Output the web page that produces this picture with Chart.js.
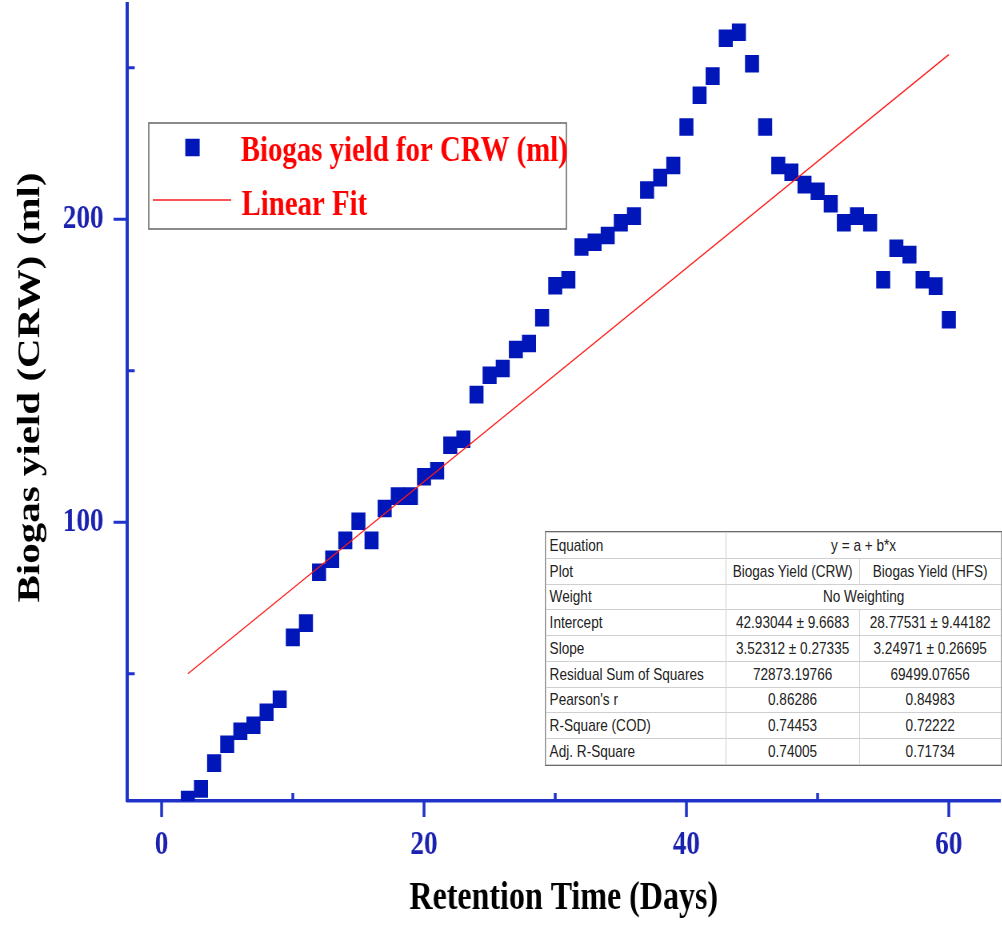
<!DOCTYPE html>
<html><head><meta charset="utf-8">
<script src="https://cdn.jsdelivr.net/npm/chart.js@4/dist/chart.umd.min.js"></script>
<style>
html,body{margin:0;padding:0;background:#fff;overflow:hidden;width:1002px;height:926px}
#wrap{position:absolute;left:0;top:0;width:1252px;height:926px;transform:scaleX(0.8);transform-origin:0 0}
#c{position:absolute;left:0;top:0}
#stats{position:absolute;left:682px;top:532px;width:569px;border-collapse:collapse;font-family:"Liberation Sans",Arial,sans-serif;font-size:17px;color:#222;table-layout:fixed;background:#fff;outline:1.5px solid #6a6a6a}
#stats tr{height:25.78px}
#stats td{border:1px solid #cfcfcf;padding:0 4px;white-space:nowrap;text-align:center;line-height:1;overflow:hidden}
#stats td.l{text-align:left}
</style></head>
<body>
<div id="wrap"><canvas id="c" width="1252" height="926"></canvas>
<table id="stats"><colgroup><col style="width:225px"><col style="width:166.5px"><col style="width:177.5px"></colgroup><tbody id="sb"></tbody></table></div>
<script>
// ---- data ----
const days = [2,3,4,5,6,7,8,9,10,11,12,13,14,15,16,17,18,19,20,21,22,23,24,25,26,27,28,29,30,31,32,33,34,35,36,37,38,39,40,41,42,43,44,45,46,47,48,49,50,51,52,53,54,55,56,57,58,59,60];
const yieldCRW = [8.5,12,20.5,26.7,31,33,37.3,41.6,62,66.7,83.5,87.8,94,100.3,94,104.5,108.6,108.6,115,117,125.4,127.4,142.1,148.5,150.7,157,159,167.5,178,180,190.8,192.4,194.6,198.8,201,209.6,213.7,217.7,230.4,240.9,247.2,259.7,261.7,251.3,230.4,217.7,215.5,211.4,209.2,205.1,198.8,201,198.8,180,190.4,188.3,180,177.9,166.8];
const fitX = [2, 60];
const fitY = [50.0, 254.3];
const xTicks = [0, 20, 40, 60];
const xMinor = [10, 30, 50];
const yTicks = [100, 200];
const yMinor = [50, 150, 250];
const seriesLabels = ['Biogas yield for CRW (ml)', 'Linear Fit'];
const xTitle = 'Retention Time (Days)';
const yTitle = 'Biogas yield (CRW) (ml)';
const statRows = [
  ['Equation', 'y = a + b*x'],
  ['Plot', 'Biogas Yield (CRW)', 'Biogas Yield (HFS)'],
  ['Weight', 'No Weighting'],
  ['Intercept', '42.93044 ± 9.6683', '28.77531 ± 9.44182'],
  ['Slope', '3.52312 ± 0.27335', '3.24971 ± 0.26695'],
  ['Residual Sum of Squares', '72873.19766', '69499.07656'],
  ["Pearson's r", '0.86286', '0.84983'],
  ['R-Square (COD)', '0.74453', '0.72222'],
  ['Adj. R-Square', '0.74005', '0.71734']
];

// ---- table ----
const sb = document.getElementById('sb');
statRows.forEach(r => {
  const tr = document.createElement('tr');
  r.forEach((t, i) => {
    const td = document.createElement('td');
    td.textContent = t;
    if (i === 0) td.className = 'l';
    if (r.length === 2 && i === 1) td.colSpan = 2;
    tr.appendChild(td);
  });
  sb.appendChild(tr);
});

// ---- styles ----
const BLUE_AXIS = '#1f33c9', BLUE_MARK = '#0016b8', BLUE_TXT = '#1c22b0', RED = '#ff1a1a';
const SERIF = '"Liberation Serif", "Times New Roman", serif';

const tickPlugin = {
  id: 'tickMarks',
  afterDraw(chart) {
    const {ctx, chartArea: a, scales: {x, y}} = chart;
    ctx.save();
    ctx.strokeStyle = BLUE_AXIS;
    ctx.lineCap = 'butt';
    ctx.lineWidth = 3.5;
    ctx.beginPath();
    xTicks.forEach(v => { const p = x.getPixelForValue(v); ctx.moveTo(p, a.bottom); ctx.lineTo(p, a.bottom + 16); });
    xMinor.forEach(v => { const p = x.getPixelForValue(v); ctx.moveTo(p, a.bottom); ctx.lineTo(p, a.bottom - 8); });
    ctx.stroke();
    ctx.lineWidth = 3;
    ctx.beginPath();
    yTicks.forEach(v => { const p = y.getPixelForValue(v); ctx.moveTo(a.left, p); ctx.lineTo(a.left - 17.5, p); });
    yMinor.forEach(v => { const p = y.getPixelForValue(v); ctx.moveTo(a.left, p); ctx.lineTo(a.left + 9, p); });
    ctx.stroke();
    // y axis title (rotated)
    ctx.fillStyle = '#000';
    ctx.font = 'bold 41px ' + SERIF;
    ctx.textAlign = 'center';
    ctx.textBaseline = 'alphabetic';
    ctx.translate(49, 387.5);
    ctx.rotate(-Math.PI / 2);
    ctx.fillText(yTitle, 0, 0);
    ctx.restore();
  }
};

const legendPlugin = {
  id: 'boxLegend',
  afterDraw(chart) {
    const ctx = chart.ctx;
    const ds = chart.data.datasets;
    ctx.save();
    ctx.strokeStyle = '#6e6e6e';
    ctx.lineWidth = 1.6;
    ctx.strokeRect(186, 123, 522, 106);
    ctx.fillStyle = ds[0].backgroundColor;
    ctx.fillRect(240.6 - 9, 147.5 - 8.75, 18, 17.5);
    ctx.strokeStyle = ds[1].borderColor;
    ctx.lineWidth = 1.3;
    ctx.beginPath(); ctx.moveTo(191, 200); ctx.lineTo(289, 200); ctx.stroke();
    ctx.fillStyle = '#ff0000';
    ctx.font = 'bold 36px ' + SERIF;
    ctx.textBaseline = 'alphabetic';
    ctx.fillText(ds[0].label, 301, 161);
    ctx.fillText(ds[1].label, 302, 215);
    ctx.restore();
  }
};

const noPad = s => { s.paddingLeft = 0; s.paddingRight = 0; s.paddingTop = 0; s.paddingBottom = 0; };

new Chart(document.getElementById('c'), {
  type: 'scatter',
  data: {
    datasets: [
      {
        label: seriesLabels[0],
        data: days.map((d, i) => ({x: d, y: yieldCRW[i]})),
        pointStyle: 'rect', pointRadius: 12.4, pointHoverRadius: 12.4,
        backgroundColor: BLUE_MARK, borderColor: BLUE_MARK, borderWidth: 0,
        showLine: false, order: 1
      },
      {
        label: seriesLabels[1],
        data: fitX.map((d, i) => ({x: d, y: fitY[i]})),
        showLine: true, borderColor: RED, backgroundColor: RED, borderWidth: 1.3,
        pointRadius: 0, order: 0
      }
    ]
  },
  options: {
    responsive: false,
    animation: false,
    events: [],
    layout: {autoPadding: false, padding: {left: 0, right: 2, top: 4, bottom: 0}},
    plugins: {legend: {display: false}, tooltip: {enabled: false}},
    scales: {
      x: {
        type: 'linear', min: -2.6, max: 63.9,
        afterBuildTicks: s => { s.ticks = xTicks.map(v => ({value: v})); },
        afterFit: s => { s.height = 125; noPad(s); },
        grid: {display: true, drawOnChartArea: false, drawTicks: true, tickLength: 16, color: 'rgba(0,0,0,0)'},
        border: {display: true, color: BLUE_AXIS, width: 3.5},
        ticks: {color: BLUE_TXT, font: {family: SERIF, weight: 'bold', size: 34}, padding: 8, maxRotation: 0, autoSkip: false},
        title: {display: true, text: xTitle, color: '#000', font: {family: SERIF, weight: 'bold', size: 40}, padding: {top: 0, bottom: 3}}
      },
      y: {
        type: 'linear', min: 8, max: 271,
        afterBuildTicks: s => { s.ticks = yTicks.map(v => ({value: v})); },
        afterFit: s => { s.width = 159.4; noPad(s); },
        grid: {display: true, drawOnChartArea: false, drawTicks: true, tickLength: 15, color: 'rgba(0,0,0,0)'},
        border: {display: true, color: BLUE_AXIS, width: 4},
        ticks: {color: BLUE_TXT, font: {family: SERIF, weight: 'bold', size: 34}, padding: 15, autoSkip: false},
        title: {display: false, text: yTitle}
      }
    }
  },
  plugins: [tickPlugin, legendPlugin]
});
</script>
</body></html>
